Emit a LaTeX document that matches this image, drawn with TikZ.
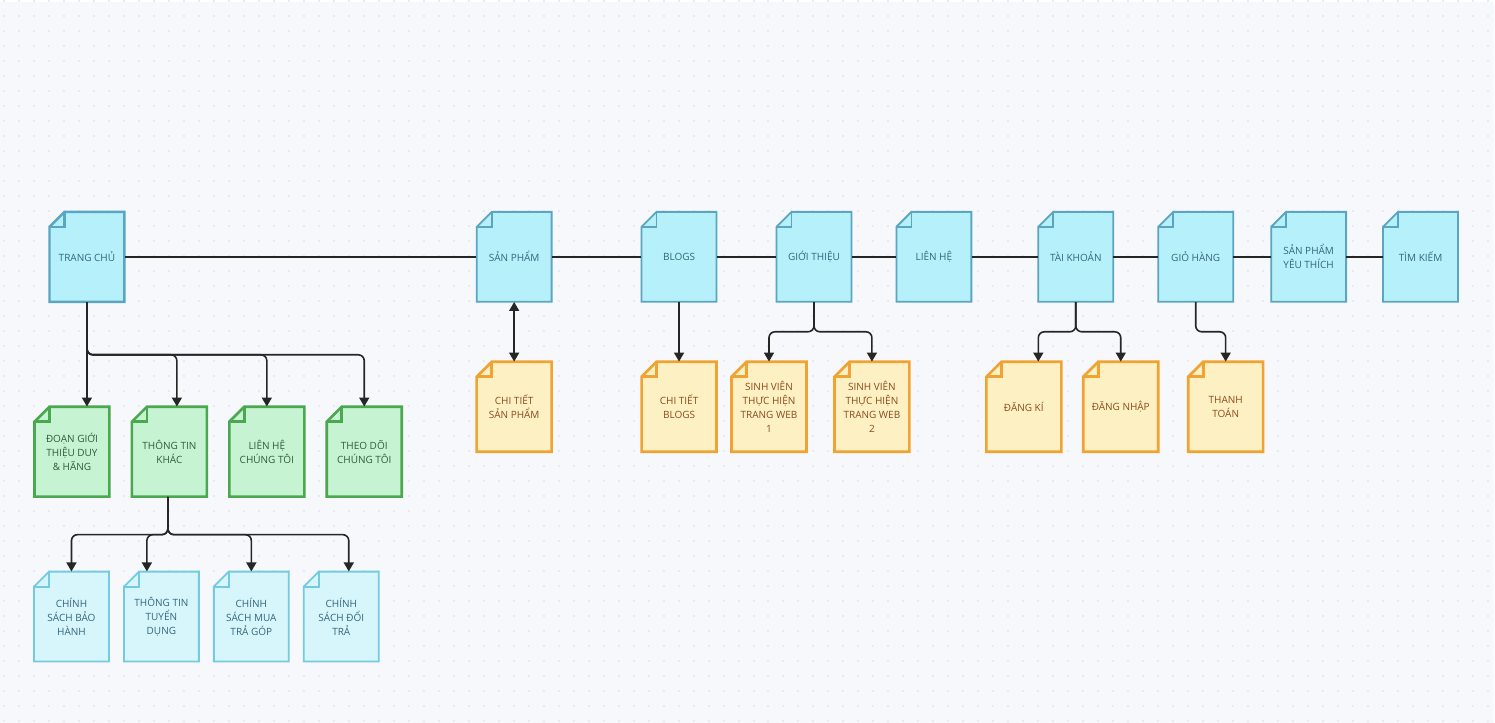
\documentclass[tikz,border=0pt]{standalone}
\usepackage{fontspec}
\setmainfont{Open Sans}
\usetikzlibrary{arrows.meta,calc}
\definecolor{bgc}{HTML}{F7F8FB}
\definecolor{dotc}{HTML}{E9EAF1}
\definecolor{topfill}{HTML}{B6F0FA}
\definecolor{topdraw}{HTML}{5AA5C0}
\definecolor{botfill}{HTML}{D6F6FB}
\definecolor{botdraw}{HTML}{74CAE0}
\definecolor{grnfill}{HTML}{C6F3D2}
\definecolor{grndraw}{HTML}{4AA84F}
\definecolor{orgfill}{HTML}{FDF0C2}
\definecolor{orgdraw}{HTML}{F0A232}
\definecolor{bluetext}{HTML}{34667C}
\definecolor{orgtext}{HTML}{8A4B1E}
\definecolor{grntext}{HTML}{2D5E3A}
\definecolor{linec}{HTML}{262626}
\tikzset{
  topshape/.style={draw=topdraw, fill=topfill, line width=1.8pt},
  tcshape/.style={draw=topdraw, fill=topfill, line width=2.4pt},
  botshape/.style={draw=botdraw, fill=botfill, line width=1.8pt},
  grnshape/.style={draw=grndraw, fill=grnfill, line width=2.6pt},
  orgshape/.style={draw=orgdraw, fill=orgfill, line width=2.6pt},
  boxtext/.style={minimum width=75pt, minimum height=90pt, inner sep=0pt, align=center, font=\fontsize{10}{14}\selectfont},
  conn/.style={draw=linec, line width=1.6pt, rounded corners=6pt},
  arr/.style={-{Triangle[width=10pt,length=9pt]}},
  mainline/.style={draw=linec, line width=1.5pt},
}
\newcommand\docbox[6]{%
  \draw[#4] (#2-37.5,#3-30) -- (#2-22.5,#3-45) -- (#2+37.5,#3-45) -- (#2+37.5,#3+45) -- (#2-37.5,#3+45) -- cycle;
  \draw[#4, fill=none] (#2-22.5,#3-45) -- (#2-22.5,#3-30) -- (#2-37.5,#3-30);
  \node[boxtext, text=#5] (#1) at (#2,#3) {#6};
}
\begin{document}
\begin{tikzpicture}[x=1pt,y=-1pt]
\fill[bgc] (0,0) rectangle (1495,721);
\foreach \j in {0,...,48} {
  \draw[dotc, line width=2pt, dash pattern=on 2pt off 13pt] (3,\j*15-1) -- (1495,\j*15-1);
}
% top row
\docbox{TC}{87}{255}{tcshape}{bluetext}{TRANG CHỦ}
\docbox{SP}{514.5}{255}{topshape}{bluetext}{SẢN PHẨM}
\docbox{BL}{679.5}{255}{topshape}{bluetext}{BLOGS}
\docbox{GT}{814.5}{255}{topshape}{bluetext}{GIỚI THIỆU}
\docbox{LH}{934.5}{255}{topshape}{bluetext}{LIÊN HỆ}
\docbox{TKH}{1076.5}{255}{topshape}{bluetext}{TÀI KHOẢN}
\docbox{GH}{1196.5}{255}{topshape}{bluetext}{GIỎ HÀNG}
\docbox{SPYT}{1309.5}{255}{topshape}{bluetext}{SẢN PHẨM\\YÊU THÍCH}
\docbox{TKM}{1421.5}{255}{topshape}{bluetext}{TÌM KIẾM}
% orange row
\docbox{CTSP}{514.5}{405}{orgshape}{orgtext}{CHI TIẾT\\SẢN PHẨM}
\docbox{CTB}{679.5}{405}{orgshape}{orgtext}{CHI TIẾT\\BLOGS}
\docbox{SV1}{769.5}{405}{orgshape}{orgtext}{SINH VIÊN\\THỰC HIỆN\\TRANG WEB\\1}
\docbox{SV2}{872.5}{405}{orgshape}{orgtext}{SINH VIÊN\\THỰC HIỆN\\TRANG WEB\\2}
\docbox{DK}{1024.5}{405}{orgshape}{orgtext}{ĐĂNG KÍ}
\docbox{DN}{1121.5}{405}{orgshape}{orgtext}{ĐĂNG NHẬP}
\docbox{TT}{1226.5}{405}{orgshape}{orgtext}{THANH\\TOÁN}
% green row
\docbox{G1}{72}{450}{grnshape}{grntext}{ĐOẠN GIỚI\\THIỆU DUY\\\& HÃNG}
\docbox{G2}{169.5}{450}{grnshape}{grntext}{THÔNG TIN\\KHÁC}
\docbox{G3}{267}{450}{grnshape}{grntext}{LIÊN HỆ\\CHÚNG TÔI}
\docbox{G4}{364.5}{450}{grnshape}{grntext}{THEO DÕI\\CHÚNG TÔI}
% bottom row
\docbox{B1}{71.5}{615}{botshape}{bluetext}{CHÍNH\\SÁCH BẢO\\HÀNH}
\docbox{B2}{161.5}{615}{botshape}{bluetext}{THÔNG TIN\\TUYỂN\\DỤNG}
\docbox{B3}{251.5}{615}{botshape}{bluetext}{CHÍNH\\SÁCH MUA\\TRẢ GÓP}
\docbox{B4}{341.5}{615}{botshape}{bluetext}{CHÍNH\\SÁCH ĐỔI\\TRẢ}
% main line
\draw[mainline] (TC) -- (SP) -- (BL) -- (GT) -- (LH) -- (TKH) -- (GH) -- (SPYT) -- (TKM);
% trang chu branches
\coordinate (tcb) at (87,353);
\draw[conn,arr] (TC.south) -- (TC.south |- G1.north);
\draw[conn,arr] (TC.south) -- (tcb) -| ([xshift=7.5pt]G2.north);
\draw[conn,arr] (TC.south) -- (tcb) -| (G3.north);
\draw[conn,arr] (TC.south) -- (tcb) -| (G4.north);
% thong tin khac branches
\coordinate (g2b) at (168,533);
\draw[draw=linec, line width=2.6pt] ([xshift=-1.5pt]G2.south) -- ([yshift=3pt]g2b);
\draw[conn,arr] ([xshift=-1.5pt]G2.south) -- (g2b) -| (B1.north);
\draw[conn,arr] ([xshift=-1.5pt]G2.south) -- (g2b) -| ([xshift=-14.5pt]B2.north);
\draw[conn,arr] ([xshift=-1.5pt]G2.south) -- (g2b) -| (B3.north);
\draw[conn,arr] ([xshift=-1.5pt]G2.south) -- (g2b) -| ([xshift=7.5pt]B4.north);
% san pham, blogs
\draw[conn,{Triangle[width=10pt,length=9pt]}-{Triangle[width=10pt,length=9pt]}] (SP) -- (CTSP);
\draw[conn,arr] (BL) -- (CTB);
% gioi thieu
\coordinate (gtb) at (814.5,330);
\draw[conn,arr] (GT.south) -- (gtb) -| (SV1.north);
\draw[conn,arr] (GT.south) -- (gtb) -| (SV2.north);
% tai khoan
\coordinate (tkb) at (1076.5,330);
\draw[conn,arr] (TKH.south) -- (tkb) -| ([xshift=14.5pt]DK.north);
\draw[conn,arr] (TKH.south) -- (tkb) -| (DN.north);
% gio hang
\coordinate (ghb) at (1196.5,330);
\draw[conn,arr] (GH.south) -- (ghb) -| (TT.north);
\end{tikzpicture}
\end{document}
